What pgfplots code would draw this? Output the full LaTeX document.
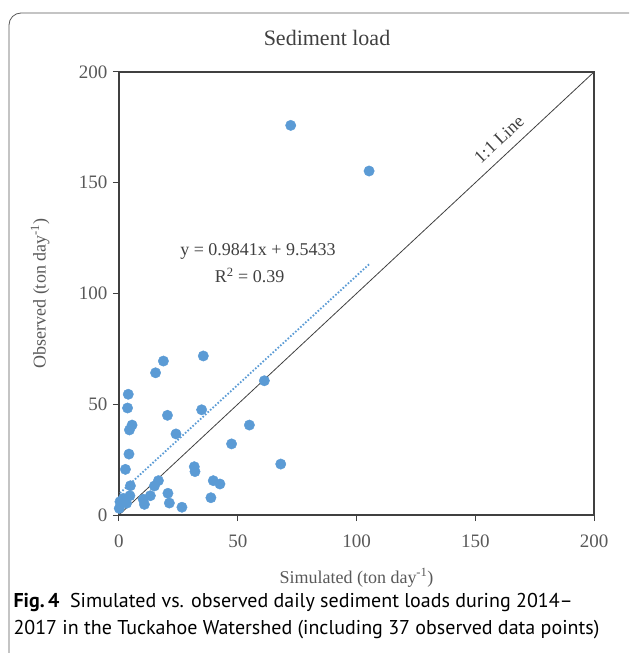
\documentclass[border=0pt]{standalone}
\usepackage{pgfplots}
\pgfplotsset{compat=1.18}
\usepackage{fontspec}
\setmainfont{Liberation Serif}
\newfontfamily\capfont{PT Sans}
\definecolor{ptblue}{HTML}{5B9BD5}
\definecolor{txtgray}{HTML}{595959}
\definecolor{axgray}{HTML}{404040}

\begin{document}
\begin{tikzpicture}[x=1pt,y=1pt]
\clip (0,0) rectangle (629,653);
\draw[rounded corners=12pt, black!65, line width=0.8pt] (9,-20) rectangle (660,640);
\node[font=\fontsize{22}{26}\selectfont, text=axgray] at (327,615) {Sediment load};
\begin{axis}[
  at={(119pt,138pt)}, anchor=south west,
  scale only axis, width=475pt, height=443pt,
  xmin=0, xmax=200, ymin=0, ymax=200,
  xtick={0,50,...,200}, ytick={0,50,...,200},
  tick align=outside, tick pos=left, major tick length=6pt,
  axis line style={axgray, line width=1.2pt},
  tick style={axgray, line width=1pt},
  ticklabel style={font=\fontsize{19}{22}\selectfont, text=txtgray},
  /pgf/number format/assume math mode=true,
  xticklabel style={yshift=-10pt},
  yticklabel style={xshift=-2pt},
  xlabel={Simulated (ton day\textsuperscript{-1})},
  ylabel={Observed (ton day\textsuperscript{-1})},
  label style={font=\fontsize{18}{22}\selectfont, text=txtgray},
  x label style={at={(axis description cs:0.5,-0.142)}, anchor=center},
  y label style={at={(axis description cs:-0.166,0.5)}, anchor=center},
  clip=false,
]
% 1:1 line
\addplot[axgray, line width=0.8pt] coordinates {(0,0) (200,200)};
% linear trend
\addplot[ptblue, line width=1.8pt, dash pattern=on 1.6pt off 1.8pt] coordinates {(0.4,9.9) (105.3,113.2)};
% observations
\addplot[only marks, mark=*, mark size=5.2pt, mark options={fill=ptblue, draw=ptblue}] coordinates {
(72.3,175.9) (105.3,155.3)
(35.5,71.8) (18.7,69.5) (15.4,64.2) (61.2,60.6) (3.9,54.5)
(3.6,48.3) (34.8,47.5) (20.4,45.0) (5.5,40.6) (4.4,38.4)
(54.9,40.6) (24.0,36.6) (47.4,32.1) (4.2,27.5) (2.7,20.6)
(31.7,21.8) (32.0,19.6) (68.1,23.0) (39.7,15.5) (42.5,14.0)
(38.7,7.8) (20.6,9.8) (21.2,5.4) (26.5,3.5) (16.6,15.5)
(14.9,13.1) (13.2,8.7) (10.2,7.1) (10.7,4.8) (4.8,13.2)
(4.6,8.7) (1.8,7.5) (0.4,6.0) (0.1,3.0) (3.2,5.3)
};
\node[font=\fontsize{18}{22}\selectfont, text=axgray] at (axis cs:58.5,118.8) {y = 0.9841x + 9.5433};
\node[font=\fontsize{18}{22}\selectfont, text=axgray] at (axis cs:55,108) {R\textsuperscript{2} = 0.39};
\node[font=\fontsize{18}{22}\selectfont, text=axgray, rotate=43, inner sep=1pt] at (axis cs:160,169.5) {1:1 Line};
\end{axis}
\node[anchor=base west, font=\capfont\fontsize{20}{24}\selectfont] at (10,45)
  {\textbf{Fig.\,4}\ \ Simulated vs. observed daily sediment loads during 2014–};
\node[anchor=base west, font=\capfont\fontsize{20}{24}\selectfont] at (10,19)
  {2017 in the Tuckahoe Watershed (including 37 observed data points)};
\end{tikzpicture}
\end{document}
